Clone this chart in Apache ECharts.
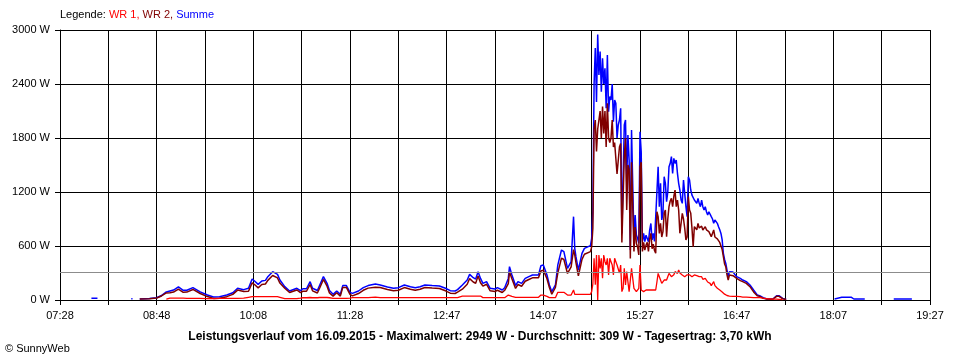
<!DOCTYPE html>
<html><head><meta charset="utf-8">
<script src="https://cdn.jsdelivr.net/npm/echarts@6/dist/echarts.min.js"></script>
<style>html,body{margin:0;padding:0;background:#fff}#c{width:960px;height:360px}</style>
</head><body><div id="c"></div>
<script>
// x tick labels (every 80 min, grid every 40 min, starting 07:28)
const tickLabels = ["07:28","08:48","10:08","11:28","12:47","14:07","15:27","16:47","18:07","19:27"];
const yMax = 3000, yStep = 600;
const average = 309;

const times = [
"07:54","07:59","08:00","08:27","08:28","08:29","08:34","08:42","08:48","08:52",
"08:56","08:59","09:02","09:06","09:10","09:13","09:18","09:24","09:30","09:35",
"09:40","09:46","09:51","09:55","10:00","10:04","10:07","10:09","10:12","10:15",
"10:18","10:20","10:24","10:28","10:30","10:34","10:38","10:44","10:47","10:49",
"10:52","10:55","10:57","11:01","11:03","11:06","11:09","11:11","11:14","11:17",
"11:20","11:22","11:25","11:28","11:30","11:35","11:39","11:43","11:49","11:53",
"11:59","12:04","12:08","12:13","12:18","12:22","12:26","12:30","12:36","12:42",
"12:47","12:51","12:55","12:57","13:01","13:05","13:07","13:10","13:12","13:14",
"13:16","13:18","13:21","13:24","13:28","13:30","13:34","13:36","13:39","13:40",
"13:42","13:45","13:47","13:50","13:53","13:56","13:59","14:04","14:06","14:08",
"14:11","14:13","14:15","14:18","14:20","14:23","14:25","14:28","14:31","14:33",
"14:34","14:35","14:37","14:40","14:42","14:47","14:48",
"14:49","14:50","14:51","14:52","14:53","14:54","14:55","14:56","14:57","14:58",
"14:59","15:00","15:01","15:02","15:03","15:04","15:05","15:06","15:07","15:08",
"15:09","15:10","15:11","15:12","15:13","15:14","15:15","15:16","15:17","15:18",
"15:19","15:20","15:21","15:22","15:23","15:24","15:25","15:26","15:27","15:28",
"15:29","15:30","15:31","15:32","15:33","15:34","15:35","15:36","15:37","15:38",
"15:39","15:40","15:41","15:42","15:43","15:44","15:45","15:46","15:47","15:48",
"15:49","15:50","15:51","15:52","15:53","15:54","15:55","15:56","15:57","15:58",
"15:59","16:00","16:01","16:02","16:03","16:04","16:05","16:06","16:07","16:08",
"16:09","16:10","16:11","16:12","16:13","16:14","16:15","16:16","16:17","16:18",
"16:19","16:20","16:21","16:22","16:23","16:24","16:25","16:26","16:27","16:28",
"16:29","16:30","16:31","16:32","16:33","16:34","16:35","16:36","16:37","16:38",
"16:39","16:40","16:41","16:42","16:43",
"16:45","16:48","16:51","16:53","16:56","16:59","17:02","17:05","17:07","17:10",
"17:13","17:18","17:21","17:23","17:26","17:29","17:30",
"18:09","18:15","18:23","18:25","18:34","18:35","18:58","19:13","19:14"
];

const summe = [
20,20,null,15,15,null,12,18,25,50,
90,100,110,145,107,108,137,90,55,33,
37,55,80,130,115,130,233,211,174,211,
218,259,315,285,222,148,100,130,105,125,
125,204,130,106,167,260,185,105,63,100,
63,160,160,85,74,100,137,160,178,167,
144,130,137,167,148,137,148,167,160,156,
130,104,100,115,167,222,285,248,233,315,
240,185,204,130,122,137,111,137,240,370,
278,160,204,185,240,260,278,278,380,390,
278,167,92,167,390,555,537,352,426,926,
574,481,333,518,574,604,685,
1000,2400,2800,2200,2949,2500,2760,2315,2685,2400,
2574,2130,2722,2093,2260,2222,2400,1981,2222,2185,
1800,1944,2000,2130,740,759,1944,2000,1315,1833,
1555,555,1889,1907,667,944,722,685,630,1870,
1648,648,740,648,720,740,648,777,850,667,
740,650,630,1200,1481,1037,1296,889,963,1370,
1296,1093,1200,1481,1518,1593,1407,1574,1518,1555,
1407,1296,1222,1111,1074,1333,1185,1037,926,1370,
1333,1222,1166,1148,1111,1111,1074,1130,1074,1037,
1111,1037,1000,1037,981,944,981,963,926,900,
852,889,870,852,815,780,740,667,519,450,
407,333,259,315,333,
310,259,240,222,204,167,111,56,48,26,
11,11,48,48,18,7,null,
11,30,30,11,11,null,10,10,null
];

const wr1 = [
null,null,null,null,null,null,null,null,null,null,
10,20,20,20,20,18,18,17,16,15,
17,17,17,18,20,30,37,37,37,37,
37,37,37,37,30,15,15,15,20,25,
25,28,25,25,28,28,28,25,18,18,
18,18,18,20,26,26,26,26,33,26,
26,26,26,26,26,26,26,26,26,26,
26,26,26,26,44,44,44,44,44,44,
44,26,26,26,26,26,26,26,55,55,
40,30,30,30,30,30,30,30,55,55,
40,26,26,26,85,85,85,55,55,111,
63,63,63,63,63,63,93,
180,463,170,500,0,500,352,463,241,500,
426,389,463,278,463,426,389,278,463,426,
389,389,300,389,93,130,352,167,315,315,
93,93,352,352,130,130,93,93,130,389,
111,111,93,93,111,93,111,93,111,93,
111,100,111,200,296,259,222,185,185,222,
200,222,259,296,296,259,259,280,315,333,
296,333,300,278,278,259,259,259,280,296,
280,259,259,259,278,278,270,259,259,240,
259,230,240,240,222,200,185,185,160,148,
204,160,148,130,111,111,100,90,74,65,
56,50,44,44,44,
41,41,37,33,33,30,26,26,26,20,
15,10,10,8,5,null,null,
null,null,null,null,null,null,null,null,null
];

const wr2 = [
null,null,null,null,null,null,10,15,22,45,
78,80,88,122,85,88,117,72,38,18,
20,37,62,110,94,98,190,172,135,172,
178,218,272,245,188,130,83,112,82,97,
97,172,102,78,136,228,154,78,43,80,
43,140,140,63,46,72,108,132,142,138,
116,102,108,138,120,108,120,138,132,128,
102,76,72,87,120,175,238,200,186,268,
192,155,175,102,94,108,83,108,182,312,
235,128,172,153,208,228,246,246,322,332,
236,139,64,139,302,466,450,295,368,560,
500,415,268,452,508,538,590,
800,1900,2000,1650,1900,2000,2100,1800,2150,1850,
2100,1700,2185,1800,1750,1800,2000,1700,1750,1750,
1400,1550,1700,1740,640,630,1600,1800,1000,1500,
1450,460,1530,1550,540,810,630,590,500,1480,
1530,540,640,555,610,640,540,680,740,570,
620,550,520,980,926,740,852,700,760,963,
1000,704,900,1037,1100,1130,1037,1150,1222,1037,
1111,1000,741,850,963,900,800,667,700,1148,
1000,963,800,593,815,800,780,852,800,778,
820,778,790,815,780,796,760,740,704,720,
778,700,690,680,667,640,600,560,481,400,
370,280,222,278,290,
270,240,215,204,185,148,90,48,40,18,
10,8,41,41,15,5,null,
null,null,null,null,null,null,null,null,null
];

function toOffset(t){const p=t.split(':');return (+p[0])*60+(+p[1])-(7*60+28);}
function build(vals){return times.map((t,i)=>[toOffset(t), vals[i]==null?'-':vals[i]]);}

const chart = echarts.init(document.getElementById('c'), null, {renderer:'canvas'});
const FONT = 'Liberation Sans';
chart.setOption({
  animation:false,
  backgroundColor:'#fff',
  grid:{left:60,right:30,top:30,bottom:60},
  xAxis:{
    type:'value',min:0,max:720,interval:40,
    axisLine:{show:true,lineStyle:{color:'#000',width:1}},
    axisTick:{show:true,length:5,lineStyle:{color:'#000'}},
    splitLine:{show:true,lineStyle:{color:'#000',width:1}},
    axisLabel:{color:'#000',fontFamily:FONT,fontSize:11,margin:10,showMaxLabel:true,showMinLabel:true,
      formatter:function(v){const k=Math.round(v/40);return k%2===0?(tickLabels[k/2]||''):'';}}
  },
  yAxis:{
    type:'value',min:0,max:yMax,interval:yStep,
    axisLine:{show:true,lineStyle:{color:'#000',width:1}},
    axisTick:{show:true,length:5,lineStyle:{color:'#000'}},
    splitLine:{show:true,lineStyle:{color:'#000',width:1}},
    axisLabel:{color:'#000',fontFamily:FONT,fontSize:11,margin:10,formatter:function(v){return v+' W';}}
  },
  series:[
    {name:'Summe',type:'line',data:build(summe),showSymbol:false,symbol:'none',
     lineStyle:{color:'#0000ff',width:1.5},itemStyle:{color:'#0000ff'},
     markLine:{silent:true,symbol:'none',label:{show:false},lineStyle:{color:'#8c8c8c',width:1,type:'solid'},data:[{yAxis:average}]}},
    {name:'WR 2',type:'line',data:build(wr2),showSymbol:false,symbol:'none',
     lineStyle:{color:'#800000',width:1.5},itemStyle:{color:'#800000'}},
    {name:'WR 1',type:'line',data:build(wr1),showSymbol:false,symbol:'none',
     lineStyle:{color:'#ff0000',width:1.3},itemStyle:{color:'#ff0000'}}
  ],
  graphic:[
    {type:'text',left:60,top:9,style:{
      text:'{k|Legende: }{a|WR 1, }{b|WR 2, }{c|Summe}',
      rich:{k:{fill:'#000',fontFamily:FONT,fontSize:11},a:{fill:'#ff0000',fontFamily:FONT,fontSize:11},
            b:{fill:'#800000',fontFamily:FONT,fontSize:11},c:{fill:'#0000ff',fontFamily:FONT,fontSize:11}}}},
    {type:'text',x:480,y:337,style:{text:'Leistungsverlauf vom 16.09.2015 - Maximalwert: 2949 W - Durchschnitt: 309 W - Tagesertrag: 3,70 kWh',
      fill:'#000',fontFamily:FONT,fontSize:12,fontWeight:'bold',textAlign:'center',textVerticalAlign:'middle'}},
    {type:'text',x:5,y:349,style:{text:'© SunnyWeb',fill:'#000',fontFamily:FONT,fontSize:11,textAlign:'left',textVerticalAlign:'middle'}}
  ]
});
</script></body></html>
